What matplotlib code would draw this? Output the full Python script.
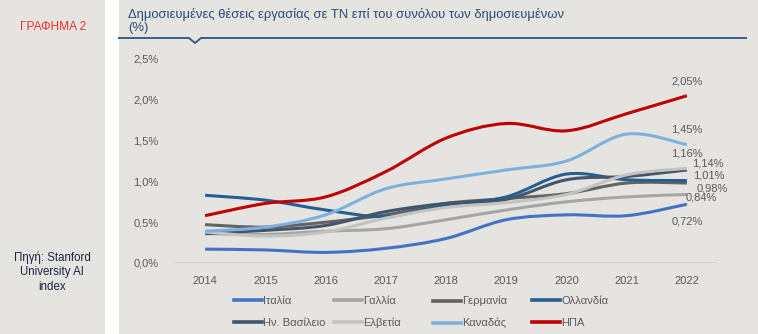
import matplotlib.pyplot as plt
import numpy as np
from matplotlib.path import Path
from matplotlib.patches import PathPatch, Rectangle
from matplotlib.lines import Line2D

plt.rcParams["font.family"] = ["Liberation Sans", "DejaVu Sans"]

years = [2014, 2015, 2016, 2017, 2018, 2019, 2020, 2021, 2022]
italy = [0.17, 0.16, 0.13, 0.18, 0.30, 0.53, 0.59, 0.58, 0.72]
france = [0.36, 0.35, 0.39, 0.42, 0.53, 0.65, 0.75, 0.81, 0.84]
germany = [0.47, 0.44, 0.50, 0.59, 0.73, 0.79, 0.85, 0.98, 0.98]
netherlands = [0.83, 0.77, 0.65, 0.57, 0.71, 0.81, 1.09, 1.02, 1.01]
uk = [0.36, 0.40, 0.46, 0.63, 0.73, 0.78, 1.02, 1.06, 1.14]
switzerland = [0.38, 0.33, 0.38, 0.55, 0.68, 0.74, 0.84, 1.08, 1.16]
canada = [0.39, 0.44, 0.59, 0.91, 1.03, 1.14, 1.25, 1.58, 1.45]
usa = [0.58, 0.73, 0.81, 1.12, 1.53, 1.71, 1.62, 1.83, 2.05]

names = ["Ιταλία", "Γαλλία", "Γερμανία", "Ολλανδία",
         "Ην. Βασίλειο", "Ελβετία", "Καναδάς", "ΗΠΑ"]
series = [italy, france, germany, netherlands, uk, switzerland, canada, usa]
colors = ["#4472c4", "#a5a5a5", "#636363", "#255e91",
          "#44546a", "#c3c3c3", "#7eb0de", "#c00000"]
# end labels: (text, dx px, dy px, ha)
end_labels = [("0,72%", 0, -17, "center"), ("0,84%", -1, -3, "left"),
              ("0,98%", 10, -5, "left"), ("1,01%", 6, 5, "left"),
              ("1,14%", 5, 6, "left"), ("1,16%", 0, 15, "center"),
              ("1,45%", 0, 15, "center"), ("2,05%", 0, 14, "center")]

bg = "#e5e4e0"
W, H = 758, 334
fig = plt.figure(figsize=(W / 100, H / 100), dpi=100)
fig.patch.set_facecolor(bg)

# white separator strip
fig.add_artist(Rectangle((105 / W, 0), 14 / W, 1, transform=fig.transFigure,
                         facecolor="white", edgecolor="none"))

fig.text(53 / W, 1 - 27 / H, "ΓΡΑΦΗΜΑ 2", color="#ee3030", fontsize=8.6,
         ha="center", va="center")
fig.text(52 / W, 1 - 272 / H, "Πηγή: Stanford\nUniversity AI\nindex",
         color="#1a2540", fontsize=8.3, ha="center", va="center", linespacing=1.25)

fig.text(128 / W, 1 - 21 / H,
         "Δημοσιευμένες θέσεις εργασίας σε ΤΝ επί του συνόλου των δημοσιευμένων\n(%)",
         color="#2a4a78", fontsize=9.4, ha="left", va="center", linespacing=1.1)

# title rule with notch
lx = np.array([119, 189, 195, 201, 746]) / W
ly = 1 - np.array([38, 38, 43, 38, 38]) / H
fig.add_artist(Line2D(lx, ly, transform=fig.transFigure, color="#3b5b86", lw=1.4))

ax = fig.add_axes([175 / W, 1 - 263 / H, 542 / W, 204 / H])
ax.set_facecolor(bg)
ax.set_xlim(2013.5, 2022.5)
ax.set_ylim(0, 2.5)
for s in ax.spines.values():
    s.set_visible(False)
ax.axhline(0, color="#d0d0cc", lw=1.2)


def smooth_path(x, y):
    pts = np.column_stack([x, y]).astype(float)
    ext = np.vstack([pts[0], pts, pts[-1]])
    verts = [pts[0]]
    codes = [Path.MOVETO]
    for i in range(len(pts) - 1):
        p0, p1, p2, p3 = ext[i], ext[i + 1], ext[i + 2], ext[i + 3]
        c1 = p1 + (p2 - p0) / 6.0
        c2 = p2 - (p3 - p1) / 6.0
        verts += [c1, c2, p2]
        codes += [Path.CURVE4] * 3
    return Path(verts, codes)


for vals, c, (lab, dx, dy, ha) in zip(series, colors, end_labels):
    ax.add_patch(PathPatch(smooth_path(years, vals), facecolor="none",
                           edgecolor=c, lw=2.2, capstyle="butt"))
    ax.annotate(lab, (years[-1], vals[-1]), xytext=(dx, dy),
                textcoords="offset pixels", ha=ha, va="center",
                fontsize=8, color="#595959")

ax.set_xticks(years)
ax.set_xticklabels([str(y) for y in years])
yt = [0, 0.5, 1.0, 1.5, 2.0, 2.5]
ax.set_yticks(yt)
ax.set_yticklabels([f"{v:.1f}%".replace(".", ",") for v in yt])
ax.tick_params(length=0, labelsize=8, colors="#595959", pad=9)
ax.tick_params(axis="y", pad=12)

handles = [Line2D([], [], color=c, lw=2.6) for c in colors]
col_x = [234, 334, 433, 532]
for j in range(4):
    leg = fig.legend([handles[j], handles[j + 4]], [names[j], names[j + 4]],
                     loc="upper left", bbox_to_anchor=(col_x[j] / W, 1 - 296 / H),
                     frameon=False, fontsize=8, handlelength=2.5,
                     handletextpad=0.15, labelspacing=1.05, borderpad=0,
                     borderaxespad=0)
    for t in leg.get_texts():
        t.set_color("#595959")

fig.savefig("out.png", dpi=100, facecolor=bg)
